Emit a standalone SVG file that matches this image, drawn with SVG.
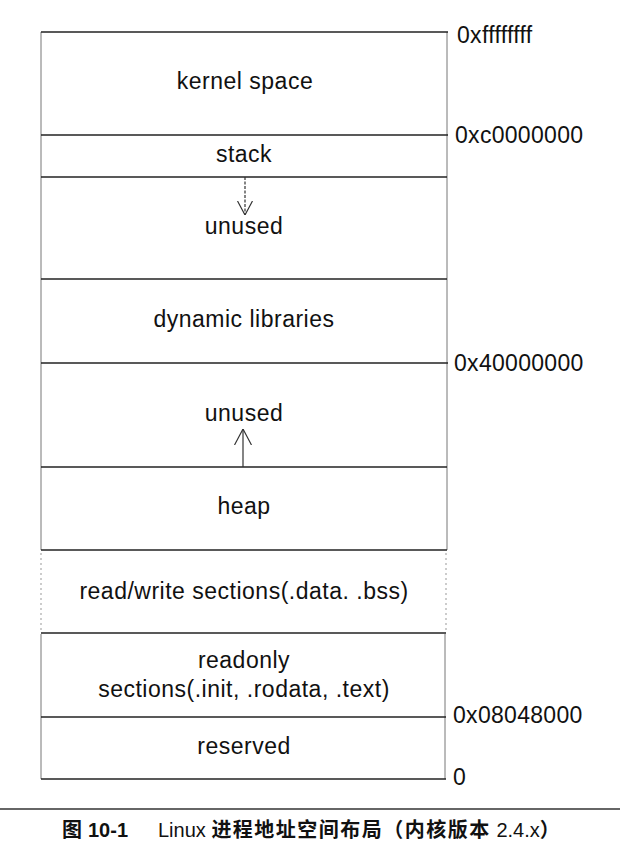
<svg xmlns="http://www.w3.org/2000/svg" width="620" height="854" viewBox="0 0 620 854">
  <style>
    .lbl { font-family: "Liberation Sans", Arial, sans-serif; font-size: 23px; fill: #111; text-anchor: middle; letter-spacing: 0.5px; }
    .addr { font-family: "Liberation Sans", Arial, sans-serif; font-size: 23px; fill: #111; letter-spacing: 0.3px; }
    .hline { stroke: #222; stroke-width: 1.3; }
    .vline { stroke: #777; stroke-width: 1; }
    .vfaint { stroke: #999; stroke-width: 1; stroke-dasharray: 2 3; }
    .arrow { stroke: #333; stroke-width: 1.2; fill: none; }
    .cap { font-family: "Noto Sans CJK SC", "Liberation Sans", sans-serif; font-size: 20px; fill: #111; }
    .capl { font-family: "Liberation Sans", Arial, sans-serif; font-weight: normal; letter-spacing: 0; }
    .capz { font-weight: bold; letter-spacing: 1.5px; }
  </style>
  <defs>
    <marker id="headDown" viewBox="0 0 14 16" refX="14" refY="8" markerWidth="14" markerHeight="16" markerUnits="userSpaceOnUse" orient="auto">
      <path d="M0,0.5 L14,8 L0,15.5" fill="none" stroke="#333" stroke-width="1.2"/>
    </marker>
    <marker id="headUp" viewBox="0 0 16 18" refX="16" refY="9" markerWidth="16" markerHeight="18" markerUnits="userSpaceOnUse" orient="auto">
      <path d="M0,0.5 L16,9 L0,17.5" fill="none" stroke="#333" stroke-width="1.2"/>
    </marker>
  </defs>
  <rect width="620" height="854" fill="#fff"/>

  <g id="frame">
    <line class="vline" x1="41" y1="32" x2="41" y2="550"/>
    <line class="vfaint" x1="41" y1="553" x2="41" y2="632"/>
    <line class="vline" x1="41" y1="634" x2="41" y2="779"/>
    <line class="vline" x1="447" y1="32" x2="447" y2="550"/>
    <line class="vfaint" x1="446" y1="553" x2="446" y2="632"/>
    <line class="vline" x1="445" y1="634" x2="445" y2="779"/>
    <line class="hline" x1="41" y1="32" x2="448" y2="32"/>
    <line class="hline" x1="41" y1="135" x2="448" y2="135"/>
    <line class="hline" x1="41" y1="177" x2="447" y2="177"/>
    <line class="hline" x1="41" y1="279" x2="447" y2="279"/>
    <line class="hline" x1="41" y1="363" x2="448" y2="363"/>
    <line class="hline" x1="41" y1="467" x2="447" y2="467"/>
    <line class="hline" x1="41" y1="550" x2="447" y2="550"/>
    <line class="hline" x1="41" y1="633" x2="446" y2="633"/>
    <line class="hline" x1="41" y1="717" x2="446" y2="717"/>
    <line class="hline" x1="41" y1="779" x2="446" y2="779"/>
  </g>

  <g id="kernel-space"><text class="lbl" x="245" y="89">kernel space</text></g>
  <g id="stack"><text class="lbl" x="244" y="162">stack</text></g>
  <g id="unused-upper"><text class="lbl" x="244" y="234">unused</text></g>
  <g id="dynamic-libraries"><text class="lbl" x="244" y="327">dynamic libraries</text></g>
  <g id="unused-lower"><text class="lbl" x="244" y="421">unused</text></g>
  <g id="heap"><text class="lbl" x="244" y="514">heap</text></g>
  <g id="rw-sections"><text class="lbl" x="244" y="599">read/write sections(.data. .bss)</text></g>
  <g id="readonly-sections">
    <text class="lbl" x="244" y="668">readonly</text>
    <text class="lbl" x="244" y="697">sections(.init, .rodata, .text)</text>
  </g>
  <g id="reserved"><text class="lbl" x="244" y="754">reserved</text></g>

  <g id="addresses">
    <text class="addr" x="457" y="43">0xffffffff</text>
    <text class="addr" x="455" y="143">0xc0000000</text>
    <text class="addr" x="454" y="371">0x40000000</text>
    <text class="addr" x="453" y="723">0x08048000</text>
    <text class="addr" x="453" y="785">0</text>
  </g>

  <g id="connectors">
    <line class="arrow" x1="245" y1="177" x2="245" y2="215" stroke-dasharray="3 1.5" marker-end="url(#headDown)"/>
    <line class="arrow" x1="243" y1="467" x2="243" y2="429" marker-end="url(#headUp)"/>
  </g>

  <g id="caption">
    <line x1="0" y1="809" x2="620" y2="809" stroke="#333" stroke-width="1.5"/>
    <text class="cap" x="62" y="837" font-weight="bold">图<tspan x="88" font-family="Liberation Sans, Arial, sans-serif">10-1</tspan></text>
    <text class="cap" x="158" y="837"><tspan class="capl">Linux </tspan><tspan class="capz">进程地址空间布局（内核版本</tspan><tspan class="capl"> 2.4.x</tspan><tspan font-weight="bold">）</tspan></text>
  </g>
</svg>
